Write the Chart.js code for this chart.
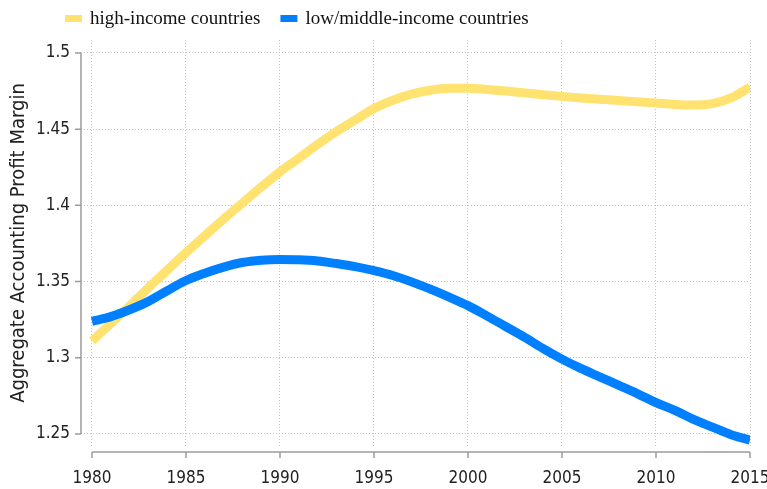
<!DOCTYPE html>
<html><head><meta charset="utf-8">
<script src="https://cdn.jsdelivr.net/npm/chart.js@4"></script>
<style>html,body{margin:0;padding:0;background:#fff}#wrap{width:767px;height:489px;position:relative}</style>
</head><body><div id="wrap"><canvas id="c" width="767" height="489"></canvas></div>
<script>
const years = [1980,1981,1982,1983,1984,1985,1986,1987,1988,1989,1990,1991,1992,1993,1994,1995,1996,1997,1998,1999,2000,2001,2002,2003,2004,2005,2006,2007,2008,2009,2010,2011,2012,2013,2014,2015];
const highIncome = [1.311,1.3225,1.334,1.346,1.3575,1.369,1.380,1.391,1.4015,1.412,1.422,1.431,1.440,1.4485,1.456,1.4635,1.469,1.473,1.4755,1.4768,1.4768,1.476,1.475,1.4738,1.4726,1.4715,1.4705,1.4696,1.4688,1.468,1.4671,1.4662,1.4658,1.4668,1.4705,1.4776];
const lowMiddleIncome = [1.3239,1.327,1.3315,1.337,1.344,1.3507,1.3555,1.3595,1.3625,1.364,1.3645,1.3643,1.3635,1.3618,1.3598,1.3572,1.354,1.3498,1.345,1.3398,1.3342,1.3275,1.3205,1.3135,1.306,1.2991,1.293,1.2875,1.282,1.2765,1.2706,1.2655,1.2595,1.2545,1.2495,1.2459];
const seriesNames = ['high-income countries', 'low/middle-income countries'];
const xTicks = [1980,1985,1990,1995,2000,2005,2010,2015];
const yTicks = [1.25,1.3,1.35,1.4,1.45,1.5];
const yTickLabels = ['1.25','1.3','1.35','1.4','1.45','1.5'];
const yTitle = 'Aggregate Accounting Profit Margin';

const tickFont = "'Liberation Sans Narrow', 'DejaVu Sans Condensed', sans-serif";
const legendFont = "'Liberation Serif', 'DejaVu Serif', serif";
const colors = ['#FFE270', '#0080FF'];

const axisPlugin = {
  id: 'axisLines',
  afterDraw(chart) {
    const ctx = chart.ctx, xs = chart.scales.x, ys = chart.scales.y, ca = chart.chartArea;
    ctx.save();
    ctx.strokeStyle = '#9c9c9c';
    ctx.lineWidth = 1.5;
    const ax = ca.left;
    ctx.beginPath();
    ctx.moveTo(ax, ys.getPixelForValue(yTicks[0]));
    ctx.lineTo(ax, ys.getPixelForValue(yTicks[yTicks.length - 1]));
    yTicks.forEach(v => { const p = ys.getPixelForValue(v); ctx.moveTo(ax - 6, p); ctx.lineTo(ax, p); });
    ctx.stroke();
    const ay = ca.bottom + 6;
    ctx.beginPath();
    ctx.moveTo(xs.getPixelForValue(xTicks[0]), ay);
    ctx.lineTo(xs.getPixelForValue(xTicks[xTicks.length - 1]), ay);
    xTicks.forEach(v => { const p = xs.getPixelForValue(v); ctx.moveTo(p, ay); ctx.lineTo(p, ay + 6); });
    ctx.stroke();
    ctx.restore();
  }
};

const legendPlugin = {
  id: 'customLegend',
  afterDraw(chart) {
    const ctx = chart.ctx;
    ctx.save();
    ctx.font = "19px " + legendFont;
    ctx.textBaseline = 'middle';
    let x = 65;
    const cy = 19;
    seriesNames.forEach((name, i) => {
      ctx.fillStyle = colors[i];
      ctx.fillRect(x, cy - 4, 17, 7);
      ctx.fillStyle = '#111';
      ctx.fillText(name, x + 25, cy);
      x += 25 + ctx.measureText(name).width + 20;
    });
    ctx.restore();
  }
};

new Chart(document.getElementById('c'), {
  type: 'line',
  data: {
    datasets: [
      { label: seriesNames[0], data: years.map((yr, i) => ({x: yr, y: highIncome[i]})), borderColor: colors[0], backgroundColor: colors[0], borderWidth: 9, pointRadius: 0, cubicInterpolationMode: 'monotone', order: 1 },
      { label: seriesNames[1], data: years.map((yr, i) => ({x: yr, y: lowMiddleIncome[i]})), borderColor: colors[1], backgroundColor: colors[1], borderWidth: 9, pointRadius: 0, cubicInterpolationMode: 'monotone', order: 0 }
    ]
  },
  options: {
    responsive: false,
    animation: false,
    devicePixelRatio: 1,
    layout: { padding: { top: 40, right: 17, bottom: 0, left: 0 } },
    plugins: { legend: { display: false }, tooltip: { enabled: false } },
    scales: {
      x: {
        type: 'linear', min: 1979.415, max: 2015,
        afterBuildTicks: s => { s.ticks = xTicks.map(v => ({value: v})); },
        afterFit: s => { s.height = 43; s.paddingLeft = 0; s.paddingRight = 0; },
        border: { display: false, dash: [1, 2] },
        grid: { color: '#c4c4c4', lineWidth: 1, drawTicks: false },
        ticks: { padding: 22, font: { family: tickFont, size: 17 }, color: '#222', maxRotation: 0, callback: (v) => String(v) }
      },
      y: {
        type: 'linear', min: 1.2421, max: 1.5085,
        afterBuildTicks: s => { s.ticks = yTicks.map(v => ({value: v})); },
        afterFit: s => { s.width = 81; s.paddingTop = 0; s.paddingBottom = 0; },
        border: { display: false, dash: [1, 2] },
        grid: { color: '#c4c4c4', lineWidth: 1, drawTicks: false },
        ticks: { padding: 11, font: { family: tickFont, size: 17 }, color: '#222', callback: (v, i) => yTickLabels[i] },
        title: { display: true, text: yTitle, font: { family: tickFont, size: 20 }, color: '#222', padding: { top: 7, bottom: 0 } }
      }
    }
  },
  plugins: [axisPlugin, legendPlugin]
});
</script></body></html>
